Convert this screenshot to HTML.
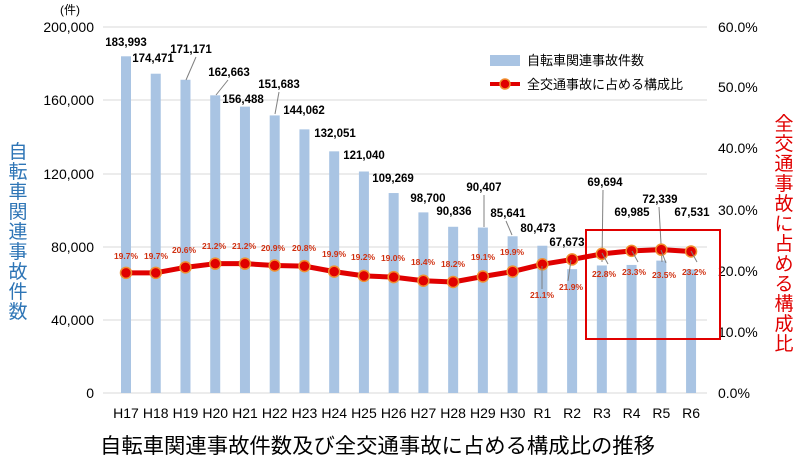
<!DOCTYPE html>
<html><head><meta charset="utf-8"><style>
html,body{margin:0;padding:0;background:#fff;}
svg{display:block;font-family:"Liberation Sans","Noto Sans CJK JP",sans-serif;}
</style></head><body>
<svg width="800" height="468" viewBox="0 0 800 468" xmlns="http://www.w3.org/2000/svg">
<g stroke="#d9d9d9" stroke-width="1">
<line x1="103" y1="27" x2="707" y2="27"/>
<line x1="103" y1="100" x2="707" y2="100"/>
<line x1="103" y1="174" x2="707" y2="174"/>
<line x1="103" y1="247" x2="707" y2="247"/>
<line x1="103" y1="320" x2="707" y2="320"/>
<line x1="103" y1="393" x2="707" y2="393"/>
</g>
<g font-size="14" fill="#000" text-anchor="end">
<text x="94" y="32">200,000</text>
<text x="94" y="105">160,000</text>
<text x="94" y="179">120,000</text>
<text x="94" y="252">80,000</text>
<text x="94" y="325">40,000</text>
<text x="94" y="398">0</text>
</g>
<g font-size="14" fill="#000" text-anchor="start">
<text x="718" y="32">60.0%</text>
<text x="718" y="92">50.0%</text>
<text x="718" y="153">40.0%</text>
<text x="718" y="215">30.0%</text>
<text x="718" y="276">20.0%</text>
<text x="718" y="337">10.0%</text>
<text x="718" y="398">0.0%</text>
</g>
<text x="60" y="14" font-size="12">(件)</text>
<g fill="#a9c4e3" id="bars"></g>
<g stroke="#808080" stroke-width="1">
<line x1="196" y1="57" x2="186" y2="80"/>
<line x1="228" y1="80" x2="216" y2="95"/>
<line x1="279" y1="92" x2="275" y2="114"/>
<line x1="484" y1="195" x2="484" y2="227"/>
<line x1="506" y1="221" x2="512" y2="235"/>
<line x1="603" y1="190" x2="602" y2="262"/>
<line x1="659" y1="207" x2="662" y2="262"/>
</g>
<g id="lbl" font-size="11.5" font-weight="bold" fill="#000"></g>
<polyline id="line" fill="none" stroke="#e00000" stroke-width="5" stroke-linejoin="round"/>
<g id="marks"></g>
<g stroke="#808080" stroke-width="1">
<line x1="542" y1="266" x2="542" y2="289"/>
<line x1="571" y1="260" x2="568" y2="281"/>
<line x1="602" y1="253" x2="608" y2="264"/>
<line x1="632" y1="251" x2="638" y2="262"/>
<line x1="661" y1="250" x2="666" y2="263"/>
<line x1="691" y1="251" x2="697" y2="262"/>
</g>
<g id="pct" font-size="8.5" font-weight="bold" fill="#d03010" text-anchor="middle"></g>
<g id="cats" font-size="14" fill="#000" text-anchor="middle"></g>
<rect x="586" y="230" width="134" height="109" fill="none" stroke="#e00000" stroke-width="2"/>
<rect x="490" y="55" width="30" height="11" fill="#a9c4e3"/>
<text x="527" y="65" font-size="13">自転車関連事故件数</text>
<line x1="490" y1="84" x2="520" y2="84" stroke="#e00000" stroke-width="4"/>
<circle cx="505" cy="84" r="5" fill="#e00000" stroke="#f09030" stroke-width="1.5"/>
<text x="527" y="89" font-size="13">全交通事故に占める構成比</text>
<g font-size="19" fill="#2e75b6" text-anchor="middle">
<text x="18" y="158">自</text><text x="18" y="178">転</text><text x="18" y="198">車</text><text x="18" y="218">関</text><text x="18" y="238">連</text><text x="18" y="258">事</text><text x="18" y="278">故</text><text x="18" y="298">件</text><text x="18" y="318">数</text>
</g>
<g font-size="19" fill="#e00000" text-anchor="middle">
<text x="784" y="130">全</text><text x="784" y="150">交</text><text x="784" y="170">通</text><text x="784" y="190">事</text><text x="784" y="210">故</text><text x="784" y="230">に</text><text x="784" y="250">占</text><text x="784" y="270">め</text><text x="784" y="290">る</text><text x="784" y="310">構</text><text x="784" y="330">成</text><text x="784" y="350">比</text>
</g>
<text x="100" y="453" font-size="21" textLength="555" lengthAdjust="spacingAndGlyphs">自転車関連事故件数及び全交通事故に占める構成比の推移</text>
<script>
var ns="http://www.w3.org/2000/svg";
var cats=["H17","H18","H19","H20","H21","H22","H23","H24","H25","H26","H27","H28","H29","H30","R1","R2","R3","R4","R5","R6"];
var vals=[183993,174471,171171,162663,156488,151683,144062,132051,121040,109269,98700,90836,90407,85641,80473,67673,69694,69985,72339,67531];
var pcts=[19.7,19.7,20.6,21.2,21.2,20.9,20.8,19.9,19.2,19.0,18.4,18.2,19.1,19.9,21.1,21.9,22.8,23.3,23.5,23.2];
var vl=[[126,46],[153,62],[191,53],[229,76],[243,103],[279,88],[304,114],[335,137],[364,159],[393,182],[428,202],[454,215],[484,191],[508,217],[538,232],[567,246],[605,186],[632,216],[660,203],[692,216]];
var pl=[[126,259],[156,259],[184,253],[214,249],[244,249],[273,251],[304,251],[334,257],[363,260],[393,261],[423,265],[453,267],[483,260],[512,255],[542,298],[571,290],[604,277],[634,275],[664,278],[694,275]];
function el(t,a,p,txt){var e=document.createElementNS(ns,t);for(var k in a)e.setAttribute(k,a[k]);if(txt)e.textContent=txt;document.getElementById(p).appendChild(e);return e;}
var pts=[];
for(var i=0;i<20;i++){
 var x=126+i*29.74;var h=vals[i]*366/200000;
 el("rect",{x:x-5,y:393-h,width:10,height:h},"bars");
 el("text",{x:vl[i][0],y:vl[i][1],"text-anchor":"middle"},"lbl",vals[i].toLocaleString("en-US"));
 var y=393-pcts[i]*6.1;pts.push(x+","+y);
 el("circle",{cx:x,cy:y,r:5.5,fill:"#e00000",stroke:"#f09030","stroke-width":1.5},"marks");
 el("text",{x:pl[i][0],y:pl[i][1]},"pct",pcts[i].toFixed(1)+"%");
 el("text",{x:x,y:418},"cats",cats[i]);
}
document.getElementById("line").setAttribute("points",pts.join(" "));
</script>
</svg>
</body></html>
